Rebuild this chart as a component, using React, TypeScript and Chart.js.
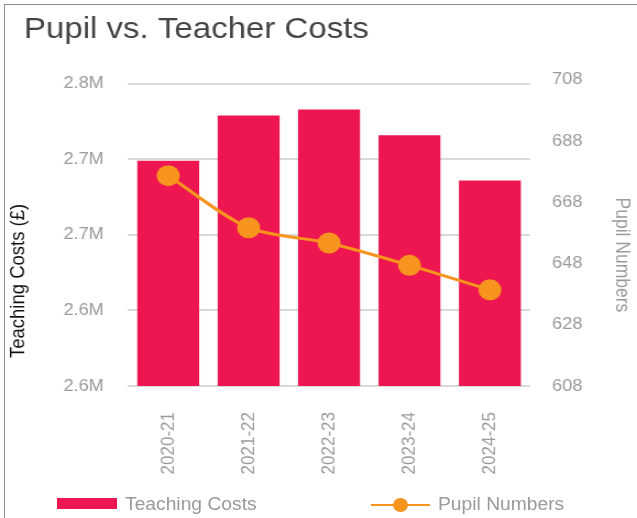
import React, { useEffect, useRef } from 'react';
import { Chart, registerables } from 'chart.js';

Chart.register(...registerables);

// ---- data ----
const categories = ['2020-21', '2021-22', '2022-23', '2023-24', '2024-25'];
const teachingCosts = [2749000, 2779000, 2783000, 2766000, 2736000];
const pupilNumbers = [676.7, 659.7, 654.7, 647.4, 639.4];
const costTicks = [2600000, 2650000, 2700000, 2750000, 2800000];
const costTickLabels = ['2.6M', '2.6M', '2.7M', '2.7M', '2.8M'];
const pupilTicks = [608, 628, 648, 668, 688, 708];

// ---- style ----
const FONT = '"Liberation Sans", Arial, Helvetica, sans-serif';
const BAR = '#ED1651';
const ORANGE = '#F7941D';
const GREY = '#9A9A9A';

const W = 637;
const H = 518;
const SX = 1.1; // horizontal stretch of the chart drawing
const CW = Math.round(W / SX);
const PLOT_LEFT = 128 / SX;
const PLOT_RIGHT = 530 / SX;
const PLOT_BOTTOM = 386;
const PAD_LEFT = 21.8;

const axisTitles = {
  id: 'axisTitles',
  afterDraw(chart: any) {
    const { ctx, chartArea } = chart;
    const mid = (chartArea.top + chartArea.bottom) / 2;
    ctx.save();
    ctx.font = `18.5px ${FONT}`;
    ctx.textAlign = 'center';
    ctx.textBaseline = 'middle';
    ctx.fillStyle = '#111111';
    ctx.translate(18.5 / SX, mid + 46);
    ctx.rotate(-Math.PI / 2);
    ctx.fillText('Teaching Costs (£)', 0, 0);
    ctx.restore();

    ctx.save();
    ctx.font = `17.5px ${FONT}`;
    ctx.textAlign = 'center';
    ctx.textBaseline = 'middle';
    ctx.fillStyle = GREY;
    ctx.translate(621 / SX, mid + 20);
    ctx.rotate(Math.PI / 2);
    ctx.fillText('Pupil Numbers', 0, 0);
    ctx.restore();
  },
};

export default function App() {
  const ref = useRef<HTMLCanvasElement | null>(null);

  useEffect(() => {
    if (!ref.current) return;
    const chart = new Chart(ref.current, {
      type: 'bar',
      data: {
        labels: categories,
        datasets: [
          {
            type: 'line',
            label: 'Pupil Numbers',
            data: pupilNumbers,
            yAxisID: 'y1',
            borderColor: ORANGE,
            backgroundColor: ORANGE,
            borderWidth: 3,
            pointRadius: 10.5,
            pointBackgroundColor: ORANGE,
            pointBorderWidth: 0,
            tension: 0.3,
            order: 0,
          } as any,
          {
            type: 'bar',
            label: 'Teaching Costs',
            data: teachingCosts,
            yAxisID: 'y',
            backgroundColor: BAR,
            barPercentage: 0.77,
            categoryPercentage: 1,
            order: 1,
          } as any,
        ],
      },
      options: {
        responsive: false,
        animation: false,
        devicePixelRatio: 1,
        layout: { padding: { left: PAD_LEFT, top: 4, right: 0, bottom: 0 } },
        plugins: {
          legend: { display: false },
          tooltip: { enabled: false },
          title: {
            display: true,
            text: 'Pupil vs. Teacher Costs',
            align: 'start',
            color: '#444444',
            font: { family: FONT, size: 30, weight: 'normal' },
            padding: { top: 7.8, bottom: 36 },
          },
        },
        scales: {
          x: {
            grid: { display: false },
            border: { display: false },
            ticks: {
              color: GREY,
              font: { family: FONT, size: 17 },
              minRotation: 90,
              maxRotation: 90,
              autoSkip: false,
              padding: 18,
            },
            afterFit: (s: any) => {
              s.height = H - PLOT_BOTTOM;
            },
          },
          y: {
            position: 'left',
            min: 2600000,
            max: 2800000,
            bounds: 'data',
            grid: { color: '#D9D9D9', lineWidth: 2, drawTicks: false },
            border: { display: false },
            ticks: {
              color: GREY,
              font: { family: FONT, size: 16.5 },
              padding: 22,
              callback: (_v: any, i: number) => costTickLabels[i],
            },
            afterBuildTicks: (s: any) => {
              s.ticks = costTicks.map((v) => ({ value: v }));
            },
            afterFit: (s: any) => {
              s.width = PLOT_LEFT - PAD_LEFT;
            },
          },
          y1: {
            position: 'right',
            min: 608,
            max: 706.7,
            bounds: 'data',
            grid: { display: false, drawTicks: false },
            border: { display: false },
            ticks: {
              color: GREY,
              font: { family: FONT, size: 16.5 },
              padding: 20,
              callback: (v: any) => String(v),
            },
            afterBuildTicks: (s: any) => {
              s.ticks = pupilTicks.map((v) => ({ value: v }));
            },
            afterFit: (s: any) => {
              s.width = CW - PLOT_RIGHT;
            },
          },
        } as any,
      },
      plugins: [axisTitles],
    } as any);
    return () => chart.destroy();
  }, []);

  const legendText: React.CSSProperties = {
    position: 'absolute',
    top: 494,
    height: 20,
    lineHeight: '20px',
    fontFamily: FONT,
    fontSize: 17.5,
    color: GREY,
    whiteSpace: 'nowrap',
    transform: `scaleX(${SX})`,
    transformOrigin: 'left center',
  };

  return (
    <div style={{ position: 'fixed', left: 0, top: 0, width: W, height: H, overflow: 'hidden', background: '#ffffff' }}>
      <div
        style={{
          position: 'absolute',
          left: 4,
          top: 4,
          width: W + 20,
          height: H + 20,
          borderLeft: '1px solid #909090',
          borderTop: '1px solid #909090',
        }}
      />
      <canvas
        ref={ref}
        width={CW}
        height={H}
        style={{ position: 'absolute', left: 0, top: 0, width: W, height: H }}
      />
      <div style={{ position: 'absolute', left: 57, top: 498, width: 60, height: 11, background: BAR }} />
      <div style={{ ...legendText, left: 125 }}>Teaching Costs</div>
      <div style={{ position: 'absolute', left: 371, top: 503.5, width: 59, height: 2.5, background: ORANGE }} />
      <div
        style={{
          position: 'absolute',
          left: 393,
          top: 497.5,
          width: 15,
          height: 14,
          borderRadius: '50%',
          background: ORANGE,
        }}
      />
      <div style={{ ...legendText, left: 438 }}>Pupil Numbers</div>
    </div>
  );
}
